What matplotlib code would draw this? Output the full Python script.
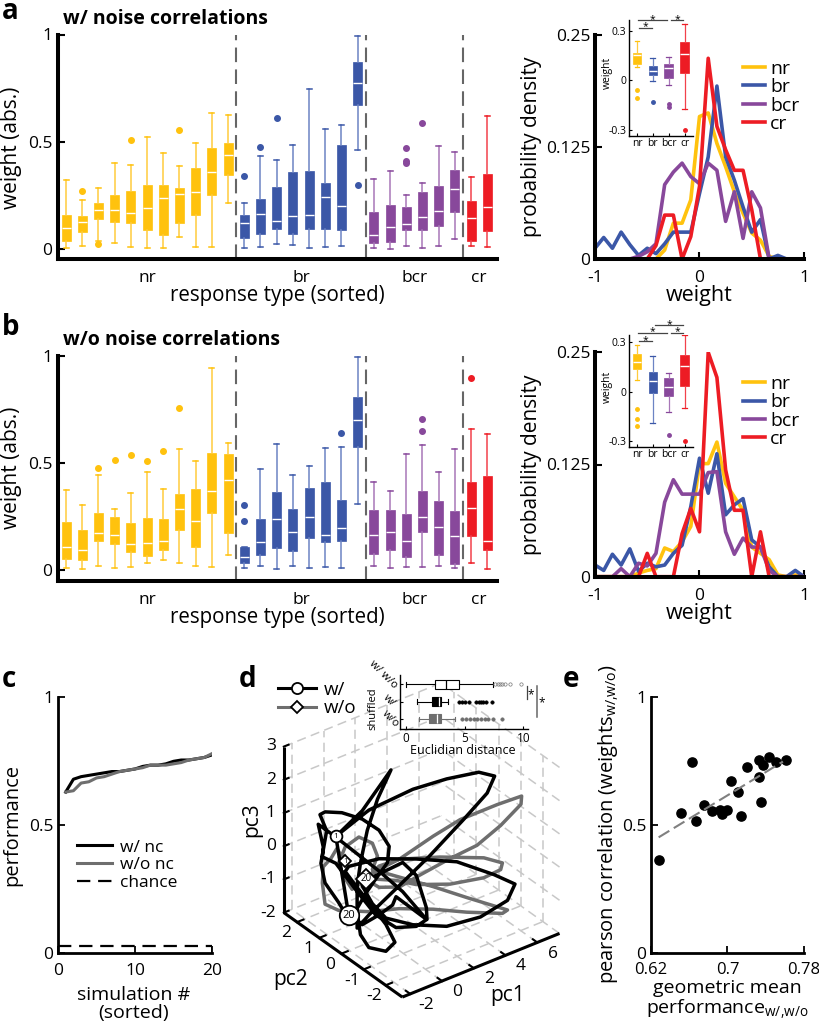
# Weights, densities and low-d trajectories, with and without noise correlations
import matplotlib
matplotlib.use('Agg')
import matplotlib.pyplot as plt
from matplotlib.lines import Line2D
from mpl_toolkits.mplot3d import proj3d
import numpy as np

plt.rcParams['font.family'] = ['Open Sans', 'DejaVu Sans']
plt.rcParams['mathtext.default'] = 'regular'

W, H = 820, 1025

group_names = ['nr', 'br', 'bcr', 'cr']
group_sizes = [11, 8, 6, 2]
gold, blue, purple, red = '#FFC20E', '#3B57A7', '#88489B', '#ED1C24'
group_colors = [gold, blue, purple, red]
whisker_colors = ['#FFCB3D', '#6C84C4', '#A877B8', '#F2414B']

# panel a box stats, one entry per neuron
a_lo = [.003, .016, .035, .028, .01, .003, .006, .054, .01, .009, .216,
        .006, .01, .023, .019, .005, .009, .012, .461,
        .005, .002, .016, .006, .016, .048, .014, .011]
a_q1 = [.036, .08, .138, .127, .12, .088, .067, .123, .158, .25, .346,
        .051, .071, .093, .071, .092, .095, .088, .669,
        .026, .034, .088, .087, .109, .171, .036, .085]
a_med = [.10, .127, .18, .18, .168, .19, .24, .255, .265, .359, .44,
         .123, .163, .132, .154, .16, .241, .20, .772,
         .065, .104, .115, .151, .177, .28, .143, .196]
a_q3 = [.157, .154, .213, .252, .27, .30, .30, .286, .377, .472, .495,
        .157, .233, .29, .357, .362, .31, .483, .874,
        .171, .205, .196, .266, .293, .366, .225, .348]
a_hi = [.32, .227, .283, .40, .39, .52, .447, .388, .495, .632, .626,
        .216, .432, .413, .484, .744, .559, .576, .995,
        .328, .363, .253, .309, .48, .452, .334, .621]
a_fliers = [[], [.269], [.023], [], [.506], [], [], [.553], [], [], [],
            [.34], [.477], [.609], [], [], [], [], [.30],
            [], [], [.469, .411, .399], [.589], [], [], [], []]

# panel b box stats
b_lo = [.008, .005, .017, .011, .014, .034, .045, .031, .02, .016, .07,
        .009, .019, .005, .019, .011, .014, .011, .307,
        .019, .011, .016, .012, .02, .008, .033, .003]
b_q1 = [.051, .048, .134, .123, .086, .065, .095, .188, .107, .266, .171,
        .034, .07, .104, .087, .151, .131, .136, .575,
        .073, .092, .061, .178, .072, .026, .157, .092]
b_med = [.106, .092, .171, .162, .123, .125, .137, .285, .229, .368, .421,
         .059, .129, .237, .176, .246, .162, .198, .70,
         .164, .178, .134, .246, .199, .16, .288, .134]
b_q3 = [.223, .185, .265, .246, .218, .243, .238, .355, .379, .545, .54,
        .109, .24, .364, .287, .383, .41, .327, .808,
        .282, .28, .262, .368, .321, .276, .411, .438]
b_hi = [.375, .305, .442, .285, .358, .46, .377, .567, .509, .944, .592,
        .109, .472, .587, .444, .486, .57, .575, .997,
        .411, .369, .54, .583, .456, .567, .66, .636]
b_fliers = [[], [], [.477], [.512], [.536], [.511], [.556], [.759], [], [], [],
            [.305, .229], [], [], [], [], [], [.639], [],
            [], [], [], [.704, .651], [], [], [.899], []]

# density curves, bins 1/12 wide
bin_centers = np.arange(-12, 13) / 12
a_nr = [0, 0, 0, 0, 0, 0, 0, 0, .01, .04, .04, .066, .159, .163, .129, .103, .075, .051, .029, .021, .003, 0, 0, 0, 0]
a_br = [.012, .024, .012, .03, .016, .004, .012, .006, .017, .03, .03, .03, .073, .114, .193, .114, .088, .058, .03, .044, 0, .004, 0, 0, 0]
a_bcr = [0, 0, 0, 0, 0, .003, .008, .017, .083, .097, .107, .092, .084, .107, .099, .042, .075, .023, .075, .057, 0, 0, 0, 0, 0]
a_cr = [0, 0, 0, 0, 0, 0, 0, .015, .049, .049, 0, .025, .081, .224, .148, .122, .099, .099, .055, 0, 0, 0, 0, 0, 0]
b_nr = [0, 0, 0, 0, 0, .004, .007, .009, .032, .028, .039, .056, .126, .126, .15, .104, .089, .074, .033, .026, .019, .002, 0, .002, 0]
b_br = [.013, .007, .025, .013, .031, .006, .015, .011, .013, .026, .035, .078, .132, .093, .137, .069, .08, .087, .041, .033, .011, 0, 0, .007, 0]
b_bcr = [0, 0, 0, .009, 0, .015, .012, .026, .083, .108, .092, .092, .092, .116, .117, .05, .025, .043, .033, .033, .007, 0, 0, 0, 0]
b_cr = [0, 0, 0, 0, 0, 0, .026, 0, 0, 0, .048, .076, .05, .25, .222, .119, .074, .074, 0, .05, 0, 0, 0, 0, 0]

# inset boxes of the density panels
ia_lo = [.083, -.004, -.03, -.171]
ia_q1 = [.099, .03, .014, .044]
ia_med = [.153, .058, .072, .159]
ia_q3 = [.167, .087, .10, .234]
ia_hi = [.24, .133, .143, .338]
ia_fliers = [[-.056, -.107], [-.131], [-.143, -.159], [-.298]]
ia_sig = [(1.13, 1.92, .318), (1.08, 2.87, .364), (3.12, 3.91, .364)]

ib_lo = [.07, -.187, -.125, -.099]
ib_q1 = [.137, -.01, -.024, .034]
ib_med = [.181, .064, .03, .153]
ib_q3 = [.227, .119, .08, .223]
ib_hi = [.282, .217, .11, .342]
ib_fliers = [[-.107, -.163, -.207], [], [-.262], [-.296]]
ib_sig = [(1.13, 1.92, .306), (1.08, 2.87, .356), (3.12, 3.91, .356), (2.13, 3.91, .403)]

# panel c
sim_n = np.arange(1, 21)
perf_w = [.63, .68, .69, .695, .70, .705, .71, .71, .715, .72, .73, .735, .735, .74, .75, .755, .755, .76, .765, .775]
perf_wo = [.63, .635, .665, .67, .685, .69, .70, .71, .715, .72, .725, .735, .735, .735, .74, .745, .755, .76, .765, .78]
chance = [.03, .03]

# panel d trajectories: a single view gives no depth, so they sit on pc2 = 0
traj_w_pc1 = [-2.85, -1.19, .62, -.23, -.87, -1.30, -1.51, -1.51, -1.30, -.77, .30, .87, .30, -.55, -1.51, -2.26, -2.04, -.13,
              2.21, 4.77, 7.11, 8.43, 7.96, 6.26, 4.13, 2.00, .30, -.55, -1.19, -.34, 1.36, 2.21, 2.85, 2.89, 2.21, .94, -.34,
              -1.62, -2.85, -3.70, -3.64, -3.96, -2.85, -.13, 1.36, 2.85, .94, .72, -.13, -1.19, -2.21, -2.68, -3.53, -3.79,
              -3.43, -3.85, -3.53, -2.47, -1.19, -.13, .51, .40, -.34, -.98, -1.51, -1.51, -.77, .94, 3.06, 5.19, 6.68, 7.15,
              6.15, 4.13, 2.00, -.77, -2.85, -2.04]
traj_w_pc3 = [1.60, 2.05, 2.93, 2.21, 1.40, .50, -.15, -.93, -1.66, -2.15, -2.47, -2.31, -1.66, -.96, -.20, .43, .54, .40,
              -.06, -.64, -1.48, -2.02, -2.42, -2.59, -2.46, -2.00, -1.47, -.87, -.21, -.07, 0, -.55, -1.65, -2.01, -2.09, -1.88, -1.25,
              -.23, .79, 1.15, 1.43, 2.18, 1.58, .03, -.88, -2.00, -.95, -1.16, -1.29, -1.38, -.88, -.42, .33, .97,
              1.88, 2.45, 2.47, 2.24, 1.80, 1.26, .65, .18, -.17, -.49, -.83, -1.42, -1.17, -.71, -.13, .55, 1.06, 1.48,
              1.79, 1.98, 2.08, 1.99, 1.60, -.93]
traj_wo_pc1 = [-2.26, -2.79, -3.15, -3.64, -3.70, -3.53, -2.68, -.77, 1.15, 3.28, 5.40, 7.64, 7.96, 5.40, 3.28, 1.15, -.55,
               -.23, -.55, -1.40, -2.26, -2.68, -2.36, -1.83, -1.19, -.13, 1.15, 3.28, 4.98, 7.32, 8.85, 8.81, 7.53, 6.04,
               4.34, 2.43, 1.15, -.13, -.98, -.13, 1.15, 3.70, 6.47, 7.64, 7.53, 6.47, 4.34, 2.21, .94, -.94]
traj_wo_pc3 = [.73, 1.22, 1.00, .84, .36, -.31, -.66, -1.07, -1.35, -1.78, -2.28, -2.75, -2.71, -1.84, -1.10, -.40, .16,
               .50, .95, 1.30, 1.17, .76, .31, -.19, -.11, .08, .14, .42, .59, .59, .55, .31, -.08, -.39,
               -.46, -.59, -.70, -.46, -.05, .18, .14, -.29, -.85, -1.23, -1.41, -1.45, -1.23, -.83, -.46, -.04]
pc1_ticks = [-2, 0, 2, 4, 6]
pc2_ticks = [-2, -1, 0, 1, 2]
pc3_ticks = [-2, -1, 0, 1, 2, 3]

# panel d inset
dist_lo = [0, 1.0, 1.1]
dist_q1 = [2.5, 2.2, 2.0]
dist_med = [3.4, 2.8, 2.7]
dist_q3 = [4.5, 3.0, 3.0]
dist_hi = [7.4, 3.6, 4.2]
dist_fliers = [[7.6, 7.8, 8.0, 8.2, 8.4, 8.9, 9.8],
               [4.5, 4.8, 5.0, 5.4, 6.0, 6.2, 6.4, 6.6, 6.8, 7.3],
               [4.8, 5.1, 5.5, 5.8, 6.1, 6.4, 6.7, 7.0, 7.4, 8.2]]

# panel e
gm_perf = [.628, .651, .663, .667, .675, .684, .692, .694, .699, .704, .711, .714, .72, .733, .733, .735, .737, .743, .751, .761]
pearson = [.365, .547, .749, .518, .579, .557, .56, .544, .56, .674, .632, .536, .727, .688, .755, .592, .736, .768, .749, .755]
fit_x = [.628, .758]
fit_y = [.453, .749]

fig = plt.figure(figsize=(8.2, 10.25), dpi=100)


def px_axes(l, t, r, b):
    return fig.add_axes([l / W, 1 - b / H, (r - l) / W, (b - t) / H])


def px_text(x, y, s, **kw):
    kw.setdefault('ha', 'center')
    kw.setdefault('va', 'center')
    return fig.text(x / W, 1 - y / H, s, **kw)


def clean(ax, lw):
    ax.spines['top'].set_visible(False)
    ax.spines['right'].set_visible(False)
    ax.spines['left'].set_linewidth(lw)
    ax.spines['bottom'].set_linewidth(lw)
    ax.patch.set_alpha(0)


def boxes(ax, pos, lo, q1, med, q3, hi, fliers, colors, light, width, lw, ms):
    for i, p in enumerate(pos):
        st = dict(whislo=lo[i], q1=q1[i], med=med[i], q3=q3[i], whishi=hi[i], fliers=fliers[i])
        ax.bxp([st], positions=[p], widths=width, patch_artist=True, manage_ticks=False,
               capwidths=width * .55,
               boxprops=dict(facecolor=colors[i], edgecolor=colors[i], linewidth=.5),
               medianprops=dict(color='white', linewidth=1),
               whiskerprops=dict(color=light[i], linewidth=lw),
               capprops=dict(color=colors[i], linewidth=lw),
               flierprops=dict(marker='o', markerfacecolor=colors[i], markeredgecolor=colors[i], markersize=ms))


def weight_panel(top, zero, bottom, lo, q1, med, q3, hi, fliers, title, title_y, label_y):
    ax = px_axes(58, top, 497, bottom)
    clean(ax, 2.9)
    colors, light = [], []
    for c, l, n in zip(group_colors, whisker_colors, group_sizes):
        colors += [c] * n
        light += [l] * n
    boxes(ax, np.arange(1, 28), lo, q1, med, q3, hi, fliers, colors, light, .55, 1.1, 4)
    edges = np.cumsum(group_sizes)[:-1] + .5
    for e in edges:
        ax.axvline(e, color='#666666', lw=1.5, dashes=(7, 3.5))
    ax.set_xlim(.5, 27.6)
    ax.set_ylim(-(bottom - zero) / (zero - top), 1)
    ax.set_yticks([0, .5, 1])
    ax.set_yticklabels(['0', '0.5', '1'], fontsize=12.5)
    ax.tick_params(axis='y', direction='in', length=5, width=1.5, pad=4)
    ax.set_xticks([6, 15.5, 22.5, 26.5])
    ax.set_xticklabels(group_names, fontsize=12.5)
    ax.tick_params(axis='x', length=0, pad=8)
    px_text(12, label_y, 'weight (abs.)', rotation=90, fontsize=15)
    px_text(277, bottom + 37, 'response type (sorted)', fontsize=14.8)
    px_text(63, title_y, title, ha='left', va='baseline', fontsize=14, fontweight='bold')


def density_panel(top, bottom, curves, y_label, x_label, legend_top):
    ax = px_axes(595, top, 804, bottom)
    clean(ax, 2.9)
    for y, c, n in zip(curves, group_colors, group_names):
        ax.plot(bin_centers, y, color=c, lw=2.6, label=n)
    ax.set_xlim(-1, 1)
    ax.set_ylim(0, .25)
    ax.set_xticks([-1, 0, 1])
    ax.set_xticklabels(['-1', '0', '1'], fontsize=12.5)
    ax.set_yticks([0, .125, .25])
    ax.set_yticklabels(['0', '0.125', '0.25'], fontsize=12.5)
    ax.tick_params(direction='in', length=5, width=1.5)
    ax.tick_params(axis='x', pad=8)
    ax.legend(loc='upper left', bbox_to_anchor=(.708, legend_top), frameon=False, fontsize=14,
              handlelength=1.15, handletextpad=.25, labelspacing=.02, borderpad=0, borderaxespad=0)
    px_text(532, y_label, 'probability density', rotation=90, fontsize=15)
    px_text(699, x_label, 'weight', fontsize=15.5)


def density_inset(top, y_hi, y_lo, bottom, lo, q1, med, q3, hi, fliers, sig, label_y):
    ax = px_axes(629, top, 692.7, bottom)
    clean(ax, 1)
    boxes(ax, [1, 2, 3, 4], lo, q1, med, q3, hi, fliers, group_colors, whisker_colors, .55, .9, 2.5)
    per_unit = (y_lo - y_hi) / .6
    ax.set_xlim(.5, 4.5)
    ax.set_ylim(-.3 - (bottom - y_lo) / per_unit, .3 + (y_hi - top) / per_unit)
    ax.set_yticks([-.3, 0, .3])
    ax.set_yticklabels(['-0.3', '0', '0.3'], fontsize=7.5)
    ax.set_xticks([1, 2, 3, 4])
    ax.set_xticklabels(group_names, fontsize=7.5)
    ax.tick_params(direction='in', length=2.5, width=.8, pad=2)
    for x0, x1, v in sig:
        ax.plot([x0, x1], [v, v], color='#444444', lw=.9, clip_on=False)
        ax.text((x0 + x1) / 2, v + .005, '*', ha='center', va='center', fontsize=7.5, clip_on=False)
    px_text(607, label_y, 'weight', rotation=90, fontsize=7.5)


# panels a, b
weight_panel(34.5, 249, 259, a_lo, a_q1, a_med, a_q3, a_hi, a_fliers, 'w/ noise correlations', 24, 148)
weight_panel(356, 570, 580.7, b_lo, b_q1, b_med, b_q3, b_hi, b_fliers, 'w/o noise correlations', 345, 468)
density_panel(35, 259, [a_nr, a_br, a_bcr, a_cr], 147, 295, .889)
density_panel(352.3, 576.7, [b_nr, b_br, b_bcr, b_cr], 465, 613, .899)
density_inset(20, 30.7, 130, 135.7, ia_lo, ia_q1, ia_med, ia_q3, ia_hi, ia_fliers, ia_sig, 73)
density_inset(335, 342, 441.3, 446.7, ib_lo, ib_q1, ib_med, ib_q3, ib_hi, ib_fliers, ib_sig, 387)

# panel c
ax_c = px_axes(58, 697.3, 212, 953.3)
clean(ax_c, 2)
ax_c.plot(sim_n, perf_w, color='black', lw=2.2, label='w/ nc')
ax_c.plot(sim_n, perf_wo, color='#6E6E6E', lw=2.2, label='w/o nc')
ax_c.plot([0, 20], chance, color='black', lw=1.6, dashes=(6, 3.5), label='chance')
ax_c.set_xlim(0, 20)
ax_c.set_ylim(0, 1)
ax_c.set_xticks([0, 10, 20])
ax_c.set_xticklabels(['0', '10', '20'], fontsize=12.5)
ax_c.set_yticks([0, .5, 1])
ax_c.set_yticklabels(['0', '0.5', '1'], fontsize=12.5)
ax_c.tick_params(direction='in', length=5, width=1.3)
ax_c.tick_params(axis='x', pad=7)
ax_c.plot([20, 20], [0, .03], color='black', lw=1.3)
ax_c.legend(loc='upper left', bbox_to_anchor=(.125, .445), frameon=False, fontsize=12.5, handlelength=2.0,
            handletextpad=.45, labelspacing=.1, borderpad=0, borderaxespad=0)
px_text(12, 825, 'performance', rotation=90, fontsize=14.5)
px_text(134, 1004, 'simulation #\n(sorted)', fontsize=14, linespacing=1.05)

# panel d
ax_d = fig.add_axes([251.7 / W, 1 - 1010 / H, 331 / W, 331 / H], projection='3d')
ax_d.set_proj_type('ortho')
ax_d.view_init(elev=32.5, azim=-127)
ax_d.set_box_aspect((1, 1, 1), zoom=1)
ax_d.set_axis_off()
ax_d.computed_zorder = False
ax_d.patch.set_alpha(0)

x0, x1, y0, y1, z0, z1 = -2.5, 7.4, -2.75, 2.6, -2, 3
grid_style = dict(color='#C8C8C8', lw=1.1, dashes=(6, 3.5), zorder=1)
for t in pc1_ticks:
    ax_d.plot([t, t], [y0, y1], [z0, z0], **grid_style)
    ax_d.plot([t, t], [y1, y1], [z0, z1], **grid_style)
for t in pc2_ticks:
    ax_d.plot([x0, x1], [t, t], [z0, z0], **grid_style)
    ax_d.plot([x1, x1], [t, t], [z0, z1], **grid_style)
for t in pc3_ticks:
    ax_d.plot([x0, x1], [y1, y1], [t, t], **grid_style)
    ax_d.plot([x1, x1], [y0, y1], [t, t], **grid_style)

ax_d.plot(traj_wo_pc1, np.zeros(len(traj_wo_pc1)), traj_wo_pc3, color='#6E6E6E', lw=2.5, zorder=2)
ax_d.plot(traj_w_pc1, np.zeros(len(traj_w_pc1)), traj_w_pc3, color='black', lw=2.5, zorder=3)

marker_style = dict(color='black', mfc='white', mew=1.3, linestyle='none', zorder=4)
ax_d.plot(traj_w_pc1[:1], [0], traj_w_pc3[:1], marker='o', ms=8.5, **marker_style)
ax_d.plot(traj_w_pc1[-1:], [0], traj_w_pc3[-1:], marker='o', ms=14, **marker_style)
ax_d.plot(traj_wo_pc1[:1], [0], traj_wo_pc3[:1], marker='D', ms=6, **marker_style)
ax_d.plot(traj_wo_pc1[-1:], [0], traj_wo_pc3[-1:], marker='D', ms=10, **marker_style)

axis_style = dict(color='black', lw=2.2, zorder=6, solid_capstyle='butt')
ax_d.plot([x0, x1], [y0, y0], [z0, z0], **axis_style)
ax_d.plot([x0, x0], [y0, y1], [z0, z0], **axis_style)
ax_d.plot([x0, x0], [y1, y1], [z0, z1], **axis_style)
for t in pc1_ticks:
    ax_d.plot([t, t], [y0, y0 + .2], [z0, z0], color='black', lw=1.5, zorder=6)
for t in pc2_ticks:
    ax_d.plot([x0, x0 + .4], [t, t], [z0, z0], color='black', lw=1.5, zorder=6)
for t in pc3_ticks:
    ax_d.plot([x0, x0 + .3], [y1, y1], [t, t], color='black', lw=1.5, zorder=6)
ax_d.set_xlim(x0, x1, view_margin=0)
ax_d.set_ylim(y0, y1, view_margin=0)
ax_d.set_zlim(z0, z1, view_margin=0)


def label_3d(x, y, z, s, **kw):
    # text at a projected point, so it stays an ordinary 2d text
    px, py, _ = proj3d.proj_transform(x, y, z, ax_d.get_proj())
    kw.setdefault('ha', 'center')
    ax_d.text2D(px, py, s, transform=ax_d.transData, va='center', zorder=7, **kw)


label_3d(traj_w_pc1[0], 0, traj_w_pc3[0], '1', fontsize=6)
label_3d(traj_w_pc1[-1], 0, traj_w_pc3[-1], '20', fontsize=8)
label_3d(traj_wo_pc1[0], 0, traj_wo_pc3[0], '1', fontsize=5.5)
label_3d(traj_wo_pc1[-1], 0, traj_wo_pc3[-1], '20', fontsize=7)
for t in pc1_ticks:
    label_3d(t, y0 - .7, z0, str(t), fontsize=12.5)
for t in pc2_ticks:
    label_3d(x0 - .7, t, z0 - .2, str(t), fontsize=12.5)
for t in pc3_ticks:
    label_3d(x0 - .5, y1, t + .1, str(t), ha='right', fontsize=12.5)

px_text(508, 996, 'pc1', fontsize=15)
px_text(291, 980, 'pc2', fontsize=15)
px_text(252, 820, 'pc3', rotation=90, fontsize=15)

fig.legend(handles=[Line2D([], [], color='black', lw=2.2, marker='o', ms=8, mfc='white', mew=1.3),
                    Line2D([], [], color='#6E6E6E', lw=2.2, marker='D', ms=6.5, mfc='white', mec='black', mew=1.3)],
           labels=['w/', 'w/o'], loc='upper left', bbox_to_anchor=(278 / W, 1 - 681 / H), frameon=False, fontsize=13.5,
           handlelength=2.05, handletextpad=.4, labelspacing=.02, borderpad=0, borderaxespad=0)

# inset of panel d
ax_i = px_axes(400, 675, 528, 729)
clean(ax_i, 1)
row_face = ['white', 'black', '#6E6E6E']
row_edge = ['black', 'black', '#6E6E6E']
for row, p in enumerate([3, 2, 1]):
    st = dict(whislo=dist_lo[row], q1=dist_q1[row], med=dist_med[row], q3=dist_q3[row], whishi=dist_hi[row], fliers=dist_fliers[row])
    ax_i.bxp([st], positions=[p], widths=.52, orientation='horizontal', patch_artist=True, manage_ticks=False,
             capwidths=.25,
             boxprops=dict(facecolor=row_face[row], edgecolor=row_edge[row], linewidth=.8),
             medianprops=dict(color='black' if row == 0 else 'white', linewidth=.9),
             whiskerprops=dict(color=row_edge[row], linewidth=.8),
             capprops=dict(color=row_edge[row], linewidth=.8),
             flierprops=dict(marker='o', markerfacecolor='none' if row == 0 else row_edge[row],
                             markeredgecolor='#777777' if row == 0 else row_edge[row], markersize=2.4, markeredgewidth=.5))
ax_i.set_xlim(-.48, 10.39)
ax_i.set_ylim(.42, 3.54)
ax_i.set_xticks([0, 5, 10])
ax_i.set_xticklabels(['0', '5', '10'], fontsize=8.5)
ax_i.set_yticks([1, 2, 3])
ax_i.set_yticklabels([])
ax_i.tick_params(direction='in', length=2.5, width=.8, pad=2)
ax_i.plot([10.28, 10.28], [2.13, 2.90], color='#444444', lw=.9, clip_on=False)
ax_i.plot([11.13, 11.13], [1.13, 2.90], color='#666666', lw=1.1, clip_on=False)
ax_i.text(10.65, 2.4, '*', ha='center', va='center', fontsize=8.5)
ax_i.text(11.56, 1.95, '*', ha='center', va='center', fontsize=8.5)
px_text(463, 750, 'Euclidian distance', fontsize=9)
px_text(383, 675, 'w/ w/o', rotation=-45, fontsize=8)
px_text(389, 701, 'w/', rotation=-45, fontsize=8)
px_text(390, 719, 'w/o', rotation=-45, fontsize=8)
px_text(373, 709, 'shuffled', rotation=90, fontsize=8)

# panel e
ax_e = px_axes(651, 697.3, 804, 953.3)
clean(ax_e, 2)
ax_e.scatter(gm_perf, pearson, s=44, color='black', zorder=3, clip_on=False)
ax_e.plot(fit_x, fit_y, color='#808080', lw=1.5, dashes=(6, 2.5), zorder=4)
ax_e.set_xlim(.62, .78)
ax_e.set_ylim(0, 1)
ax_e.set_xticks([.62, .7, .78])
ax_e.set_xticklabels(['0.62', '0.7', '0.78'], fontsize=12)
ax_e.set_yticks([0, .5, 1])
ax_e.set_yticklabels(['0', '0.5', '1'], fontsize=12.5)
ax_e.tick_params(direction='in', length=5, width=1.3)
ax_e.tick_params(axis='x', pad=6)
px_text(609, 824, r'pearson correlation (weights$_{w/{,}w/o}$)', rotation=90, fontsize=14.5)
px_text(727, 988, 'geometric mean', fontsize=14)
px_text(727, 1009, r'performance$_{w/{,}w/o}$', fontsize=14)

# panel letters
for s, x, y in [('a', 2, 19), ('b', 2, 335), ('c', 2, 687), ('d', 239, 687), ('e', 563, 687)]:
    px_text(x, y, s, ha='left', va='baseline', fontsize=20, fontweight='bold')

fig.savefig('out.png', dpi=100)
